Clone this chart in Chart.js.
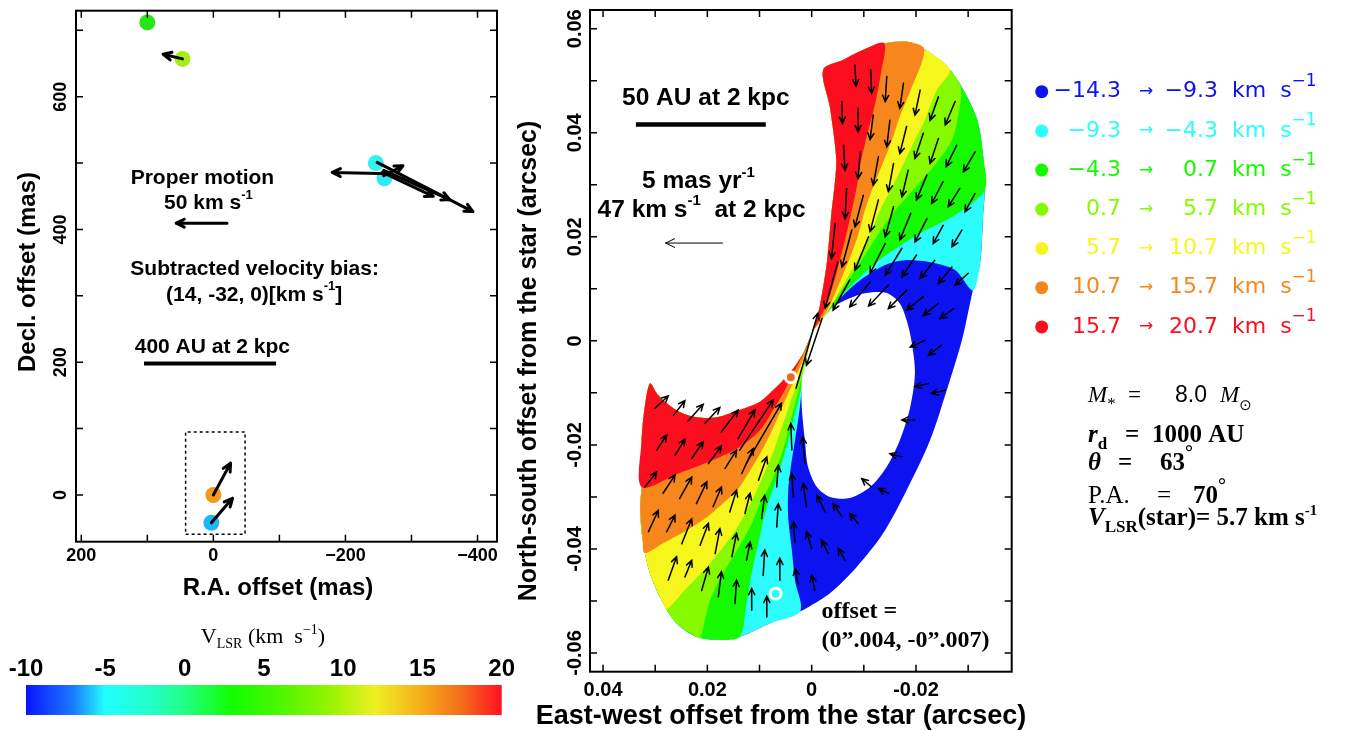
<!DOCTYPE html>
<html>
<head>
<meta charset="utf-8">
<title>Maser proper motions and disk model</title>
<script src="https://cdn.jsdelivr.net/npm/chart.js"></script>
<style>
  html, body { margin: 0; padding: 0; background: #fff; }
  #wrap { position: relative; width: 1345px; height: 731px; overflow: hidden; background: #fff; }
  canvas { position: absolute; }
</style>
</head>
<body>
<div id="wrap">
  <canvas id="pmChart" width="505" height="625" style="left:0;top:0;width:505px;height:625px"></canvas>
  <canvas id="cbChart" width="540" height="111" style="left:0;top:620px;width:540px;height:111px"></canvas>
  <canvas id="modelChart" width="840" height="731" style="left:505px;top:0;width:840px;height:731px"></canvas>
</div>
<script>
const SANS = '"Liberation Sans", Arial, Helvetica, sans-serif';
const SERIF = '"Liberation Serif", "Times New Roman", Times, serif';

// ---- left panel: maser spots, offsets in mas ----
const spotRA = [100, 46.7, -246, -259, 0, 3];
const spotDec = [712, 657, 500, 477, 0, -42];
const spotColor = ['#2ae41a', '#a6ee1a', '#36f2ee', '#2eeaf4', '#f39a1c', '#1eb6f6'];
// proper motion arrows: [ra0, dec0, ra1, dec1]
const pmArrows = [
  [46.7, 657, 76, 664],
  [0, 0, -26, 48],
  [3, -42, -29, -5],
  [-270, 484, -180, 486],
  [-248, 501, -393, 427],
  [-258, 489, -358, 445],
  [-256, 486, -333, 450],
  [-258, 481, -287, 496]
];
const pmRefArrow = [-20.6, 409.5, 56.3, 409.5];   // 50 km/s
const pmBoxRA = [42, -48, -48, 42, 42];
const pmBoxDec = [-59, -59, 95, 95, -59];
const pmBarRA = [105, -95];                         // 400 AU at 2 kpc
const pmBarDec = [198, 198];
const pmTicksX = [200, 100, 0, -100, -200, -300, -400];
const pmTicksY = [0, 100, 200, 300, 400, 500, 600, 700];

// ---- middle panel: disk model, offsets in mas (axes labelled in arcsec) ----
// outer edge of the northern lobe, from the star up the east side, over the top, down to the west
const upperEdge = [[-0.1, 1.7], [-0.8, 3.8], [-1.6, 6.9], [-2.9, 14.9], [-3.8, 24.6], [-4.5, 30.9],
  [-4.7, 35.3], [-3.5, 44.9], [-2.2, 52.1], [-6.0, 54.0], [-9.8, 55.9], [-13.9, 57.2], [-18.3, 57.5],
  [-21.6, 56.1], [-26.5, 52.1], [-29.8, 46.9], [-31.9, 41.9], [-32.9, 35.3], [-33.2, 29.0],
  [-32.9, 24.6], [-32.3, 14.9], [-30.9, 9.7]];
const rightEdge = [[-28.8, 0.1], [-25.9, -9.5], [-22.7, -19.1], [-18.2, -28.7], [-13.7, -37.0],
  [-8.6, -43.5], [-3.5, -48.5], [1.7, -51.8]];
// southern lobe, from the star along the inner edge, round the tip, down and along the bottom
const lowerEdge = [[-0.1, 1.7], [1.5, -2.2], [2.8, -4.3], [4.2, -6.2], [5.5, -7.6], [7.4, -9.5],
  [9.9, -11.7], [13.8, -13.3], [18.2, -14.7], [22.1, -14.7], [25.3, -13.7], [27.8, -12.0],
  [29.7, -10.1], [31.0, -8.2], [32.0, -12.7], [32.6, -19.1], [32.6, -28.1], [32.9, -32.0],
  [32.4, -38.3], [31.0, -44.7], [28.5, -50.4], [25.9, -54.3], [22.1, -56.9], [17.6, -57.5],
  [13.8, -56.9], [8.0, -54.3], [2.2, -52.0]];
const holeEdge = [[-0.1, 1.7], [-2.0, 4.0], [-4.1, 6.5], [-7.3, 8.2], [-10.5, 9.2], [-14.4, 9.2],
  [-16.9, 7.2], [-18.2, 4.0], [-19.2, -0.4], [-19.8, -6.2], [-18.9, -12.7], [-16.9, -19.1],
  [-14.4, -24.2], [-11.2, -28.1], [-7.3, -30.2], [-3.5, -30.0], [-1.0, -28.1], [0.7, -24.2],
  [1.3, -19.1], [1.9, -12.7], [1.9, -7.6], [1.3, -4.7], [0.7, -2.2]];
// velocity band boundaries, northern lobe (edge -> star)
const bUpRO = [[-13.3, 51.5], [-12.1, 45.3], [-10.4, 38.6], [-9.3, 33.8], [-8.7, 29.9], [-7.7, 25.1],
  [-6.6, 20.3], [-5.4, 15.5], [-4.1, 10.7], [-2.6, 6.5], [-1.0, 3.2]];
const bUpOY = [[-19.0, 48.2], [-17.0, 43.4], [-15.4, 38.6], [-13.5, 33.8], [-11.8, 29.6], [-10.2, 25.1],
  [-8.9, 20.3], [-7.3, 15.9], [-5.4, 11.3], [-3.5, 6.9], [-1.6, 3.6]];
const bUpYG = [[-24.0, 48.2], [-21.7, 42.4], [-19.8, 38.6], [-17.5, 33.8], [-15.6, 29.9], [-13.1, 25.1],
  [-11.2, 20.3], [-9.3, 16.5], [-6.6, 11.7], [-4.1, 7.4], [-2.0, 4.0]];
const bUpGG = [[-28.6, 48.6], [-28.1, 43.4], [-26.9, 38.6], [-23.6, 33.8], [-19.8, 29.4], [-16.0, 25.1],
  [-12.7, 20.3], [-10.2, 16.5], [-7.3, 12.0], [-4.5, 7.8], [-2.3, 4.3]];
const bUpGC = [[-27.5, 24.2], [-20.8, 20.7], [-15.6, 17.4], [-11.8, 14.6], [-8.3, 11.3], [-5.4, 8.2],
  [-2.7, 4.8]];
const bUpCB = [[-27.5, 13.6], [-22.7, 15.1], [-17.9, 15.5], [-14.1, 14.6], [-10.2, 12.3], [-7.0, 9.7],
  [-4.7, 7.4], [-4.1, 6.5], [-2.0, 4.0]];
// velocity band boundaries, southern lobe (edge -> star)
const bLoRO = [[25.3, -25.4], [18.9, -22.9], [13.8, -20.4], [9.9, -17.2], [7.4, -13.3], [5.5, -10.1],
  [3.8, -6.8], [2.2, -3.7], [0.9, -1.0]];
const bLoOY = [[32.0, -40.8], [28.5, -38.9], [23.9, -36.4], [20.1, -33.9], [17.0, -31.2], [14.3, -28.7],
  [11.8, -24.9], [9.5, -21.0], [7.6, -17.2], [5.9, -13.3], [4.4, -9.9], [3.0, -6.8], [1.7, -3.7], [0.7, -1.0]];
const bLoYG = [[27.8, -51.6], [23.9, -47.4], [20.1, -43.5], [17.0, -39.7], [13.8, -35.1], [11.4, -30.6],
  [9.5, -26.4], [7.6, -22.0], [6.1, -17.6], [4.7, -13.7], [3.6, -10.4], [2.4, -7.2], [1.3, -3.9], [0.5, -1.2]];
const bLoGG = [[21.4, -57.2], [19.5, -49.9], [17.0, -44.7], [14.3, -40.2], [11.8, -35.8], [9.9, -31.2],
  [8.0, -27.7], [6.5, -23.9], [5.1, -19.6], [4.0, -15.2], [3.0, -11.4], [2.1, -7.7], [1.1, -4.3], [0.3, -1.4]];
const bLoGC = [[12.6, -51.2], [11.5, -44.7], [10.1, -38.3], [8.8, -32.6], [7.2, -27.8], [5.7, -23.4],
  [4.4, -18.7], [3.2, -13.9], [2.2, -10.1], [1.5, -6.6], [0.9, -4.1], [0.3, -1.4]];
const bLoCB = [[3.2, -46.0], [3.8, -40.2], [4.5, -33.9], [4.5, -28.7], [4.0, -24.3], [3.2, -19.1],
  [2.4, -13.9], [1.9, -9.5], [1.3, -5.3], [0.5, -1.4]];
// model velocity vectors: [x0, y0, x1, y1] in mas
const modelArrows = [
  [-8.3, 53.0, -8.5, 49.0], [-11.3, 52.1, -11.5, 47.6], [-14.4, 50.8, -14.1, 46.0], [-17.6, 49.5, -16.9, 44.7],
  [-20.8, 48.2, -19.8, 43.4], [-24.3, 46.9, -22.7, 42.4], [-27.5, 46.0, -25.6, 41.5],
  [-5.8, 46.0, -5.9, 41.8], [-8.9, 44.7, -8.9, 40.2], [-11.8, 43.4, -11.2, 38.7], [-15.0, 42.4, -14.4, 37.3],
  [-18.2, 41.2, -16.9, 36.0], [-21.4, 39.9, -19.8, 35.1], [-24.3, 38.9, -22.7, 34.1], [-27.8, 37.6, -25.8, 33.5],
  [-31.3, 36.3, -29.1, 32.5],
  [-6.1, 37.6, -6.4, 32.8], [-9.3, 36.3, -8.9, 31.2], [-12.8, 35.4, -11.8, 29.9], [-15.7, 34.1, -14.7, 28.7],
  [-18.5, 32.8, -17.3, 27.7], [-22.1, 31.9, -20.1, 27.1], [-25.2, 30.6, -23.0, 26.4], [-28.4, 29.3, -26.2, 25.8],
  [-31.3, 28.3, -29.4, 24.8],
  [-6.7, 29.3, -6.4, 23.5], [-9.9, 28.0, -8.3, 21.9], [-12.8, 27.1, -11.2, 21.0], [-15.7, 25.8, -14.1, 20.0],
  [-19.0, 24.5, -16.9, 19.4], [-22.1, 23.5, -19.8, 19.0], [-25.2, 22.2, -23.3, 18.7], [-28.8, 21.3, -26.9, 18.1],
  [-4.5, 22.6, -3.8, 15.8], [-7.7, 21.3, -5.8, 14.2], [-10.9, 20.0, -8.3, 13.6], [-14.1, 18.7, -11.2, 13.0],
  [-17.3, 17.8, -14.1, 12.6], [-20.1, 16.5, -17.3, 12.3], [-23.6, 15.5, -20.8, 12.0], [-26.9, 14.2, -24.3, 11.0],
  [-30.0, 13.0, -27.5, 10.7],
  [-7.3, 11.7, -4.1, 5.9], [-11.2, 11.3, -7.3, 6.5], [-14.7, 10.7, -10.9, 6.7], [-18.2, 9.7, -14.7, 6.2],
  [-21.4, 8.5, -18.2, 5.9], [-24.3, 7.2, -21.4, 4.9], [-27.2, 6.2, -24.6, 4.3], [-5.0, 15.1, -2.6, 6.3],
  [-21.7, 0.1, -18.9, -1.2], [-24.9, -0.8, -22.4, -2.8], [-22.4, -8.2, -19.8, -8.8], [-25.6, -9.5, -23.0, -10.1],
  [-19.8, -15.2, -17.3, -15.2], [-17.3, -22.3, -15.0, -21.7], [-14.7, -29.3, -12.8, -28.4], [-11.5, -28.1, -9.6, -26.5],
  [-8.9, -35.1, -7.3, -33.2], [-5.8, -33.8, -4.1, -31.3], [-2.6, -32.9, -1.0, -29.7], [1.0, -31.9, 1.6, -27.4],
  [1.3, -23.6, 1.7, -18.5], [-6.4, -42.2, -5.1, -39.9], [-3.2, -40.9, -1.9, -38.3], [0.0, -39.9, 1.0, -36.7],
  [3.2, -38.7, 3.5, -34.8], [-0.6, -48.0, 0.0, -45.1], [2.6, -46.7, 3.2, -43.8],
  [30.1, -13.0, 27.5, -10.6], [26.5, -14.3, 24.3, -11.5], [23.7, -15.4, 20.8, -12.2], [20.5, -15.9, 17.6, -12.8],
  [17.3, -17.5, 14.1, -13.3], [14.1, -18.8, 10.9, -13.3], [13.8, -21.0, 7.4, -11.4], [12.5, -23.5, 5.8, -12.0],
  [29.7, -21.0, 27.8, -18.1], [26.2, -22.0, 24.3, -18.9], [23.0, -22.6, 20.8, -19.4], [19.8, -23.6, 17.3, -20.2],
  [16.6, -24.5, 14.4, -21.0], [13.4, -25.5, 11.2, -20.7], [10.2, -26.8, 8.6, -22.3], [6.7, -28.1, 6.4, -23.9],
  [32.0, -28.1, 29.7, -25.2], [28.5, -29.3, 26.2, -25.8], [25.3, -30.3, 23.0, -26.2], [22.1, -31.3, 20.1, -27.1],
  [18.9, -31.9, 17.3, -28.1], [15.7, -32.9, 14.4, -28.7], [12.8, -33.2, 11.8, -29.3], [9.6, -34.2, 9.0, -29.7],
  [6.7, -35.8, 6.4, -31.3],
  [31.3, -36.7, 29.4, -32.6], [27.8, -36.7, 26.2, -33.5], [24.9, -39.0, 23.0, -34.2], [21.4, -39.3, 19.8, -35.1],
  [18.5, -40.9, 17.6, -36.1], [15.3, -41.5, 14.4, -37.0], [12.5, -42.2, 11.8, -38.7], [9.3, -45.1, 9.0, -40.2],
  [6.1, -46.0, 6.1, -41.8],
  [27.5, -46.0, 25.9, -41.5], [24.3, -45.4, 23.0, -42.2], [21.1, -48.0, 19.8, -43.5], [17.9, -49.2, 17.3, -44.4],
  [14.7, -50.5, 14.4, -46.0], [11.5, -51.8, 11.5, -47.6], [8.6, -53.1, 8.6, -49.1],
  [3.5, -30.0, 3.8, -25.5], [3.8, -21.0, 4.0, -15.9], [3.0, -9.1, -1.2, 5.3], [-2.0, 4.3, 1.0, -4.7]
];
const scaleArrow = [17.1, 18.8, 28.0, 18.8];        // 5 mas/yr
const auBarX = [33.7, 8.8];                          // 50 AU at 2 kpc
const auBarY = [41.6, 41.6];
const markerX = [4.0, 6.9];
const markerY = [-7.0, -48.6];
const markerColor = ['#f4661c', '#2cfcfc'];
const modelTicksX = [40, 30, 20, 10, 0, -10, -20, -30];
const modelTicksY = [-60, -50, -40, -30, -20, -10, 0, 10, 20, 30, 40, 50, 60];

// ---- legend: velocity bands (km/s) ----
const bandLow = [-14.3, -9.3, -4.3, 0.7, 5.7, 10.7, 15.7];
const bandHigh = [-9.3, -4.3, 0.7, 5.7, 10.7, 15.7, 20.7];
const bandColor = ['#0d12f0', '#2cfcfc', '#16fa00', '#86fb00', '#f6f61c', '#f7871c', '#fb0e1e'];

// ---- colour bar ----
const cbTicks = [-10, -5, 0, 5, 10, 15, 20];
const cbStopV = [-10, -7, -5, -2, 0, 3, 6, 9, 12, 15, 17.5, 20];
const cbStopC = ['#0a14ff', '#1a7cff', '#22ffff', '#22ffc4', '#22ff84', '#12ff00', '#4cf600', '#92f400',
  '#eef022', '#f6ac1a', '#f46c1a', '#ff1022'];

// ---------- helpers ----------
const fmtMas = v => (v < 0 ? '\u2212' + (-v) : String(v));
const fmtArc = v => (v === 0 ? '0' : (v / 1000).toFixed(2));
const fmtVel = v => (v < 0 ? '\u2212' + Math.abs(v).toFixed(1) : v.toFixed(1));
const pts = arr => arr.map(p => ({ x: p[0], y: p[1] }));

function drawArrow(ctx, x0, y0, x1, y1, head, width) {
  const ang = Math.atan2(y1 - y0, x1 - x0);
  const spread = 0.45;
  ctx.lineWidth = width;
  ctx.beginPath();
  ctx.moveTo(x0, y0);
  ctx.lineTo(x1, y1);
  ctx.moveTo(x1 - head * Math.cos(ang - spread), y1 - head * Math.sin(ang - spread));
  ctx.lineTo(x1, y1);
  ctx.lineTo(x1 - head * Math.cos(ang + spread), y1 - head * Math.sin(ang + spread));
  ctx.stroke();
}

// text made of pieces (for super/subscripts)
function rich(ctx, parts, x, y, align, baseline) {
  let w = 0;
  parts.forEach(p => { ctx.font = p.f; w += ctx.measureText(p.t).width; });
  let cx = align === 'left' ? x : x - w / 2;
  ctx.textAlign = 'left';
  ctx.textBaseline = baseline || 'middle';
  parts.forEach(p => {
    ctx.font = p.f;
    ctx.fillText(p.t, cx, y + (p.dy || 0));
    cx += ctx.measureText(p.t).width;
  });
}

// box, inward ticks on four sides, rotated y labels and axis titles
function makeFrame(cfg) {
  return {
    id: 'frame',
    afterDraw(chart) {
      const { ctx, chartArea: a } = chart;
      const sx = chart.scales.x, sy = chart.scales.y;
      ctx.save();
      ctx.strokeStyle = '#000';
      ctx.lineWidth = 2;
      ctx.strokeRect(a.left, a.top, a.right - a.left, a.bottom - a.top);
      ctx.beginPath();
      sx.ticks.forEach(t => {
        const p = sx.getPixelForValue(t.value);
        ctx.moveTo(p, a.bottom); ctx.lineTo(p, a.bottom - 7);
        ctx.moveTo(p, a.top); ctx.lineTo(p, a.top + 7);
      });
      sy.ticks.forEach(t => {
        const p = sy.getPixelForValue(t.value);
        ctx.moveTo(a.left, p); ctx.lineTo(a.left + 7, p);
        ctx.moveTo(a.right, p); ctx.lineTo(a.right - 7, p);
      });
      ctx.lineWidth = 1.5;
      ctx.stroke();

      ctx.fillStyle = '#000';
      ctx.textAlign = 'center';
      ctx.textBaseline = 'middle';
      ctx.font = cfg.labelFont;
      sy.ticks.forEach(t => {
        const s = cfg.yLabel(t.value);
        if (!s) return;
        ctx.save();
        ctx.translate(cfg.yLabelX, sy.getPixelForValue(t.value));
        ctx.rotate(-Math.PI / 2);
        ctx.fillText(s, 0, 0);
        ctx.restore();
      });
      ctx.font = cfg.xTitleFont;
      ctx.fillText(cfg.xTitle, cfg.xTitlePos[0], cfg.xTitlePos[1]);
      ctx.font = cfg.yTitleFont;
      ctx.save();
      ctx.translate(cfg.yTitlePos[0], cfg.yTitlePos[1]);
      ctx.rotate(-Math.PI / 2);
      ctx.fillText(cfg.yTitle, 0, 0);
      ctx.restore();
      ctx.restore();
    }
  };
}

const baseOptions = {
  responsive: false,
  animation: false,
  events: [],
  plugins: { legend: { display: false }, tooltip: { enabled: false } }
};

// ---------- left: proper motions ----------
const pmOverlay = {
  id: 'pmOverlay',
  afterDatasetsDraw(chart) {
    const { ctx } = chart;
    const sx = chart.scales.x, sy = chart.scales.y;
    const X = v => sx.getPixelForValue(v), Y = v => sy.getPixelForValue(v);
    ctx.save();
    ctx.strokeStyle = '#000';
    ctx.lineCap = 'round';
    ctx.lineJoin = 'round';
    pmArrows.concat([pmRefArrow]).forEach(a => drawArrow(ctx, X(a[0]), Y(a[1]), X(a[2]), Y(a[3]), 9, 3));
    ctx.fillStyle = '#000';
    const B = 'bold 21px ' + SANS, S = 'bold 13px ' + SANS;
    rich(ctx, [{ t: 'Proper motion', f: B }], X(16.6), Y(477.8));
    rich(ctx, [{ t: '50 km s', f: B }, { t: '-1', f: S, dy: -8 }], X(7.5), Y(440));
    rich(ctx, [{ t: 'Subtracted velocity bias:', f: B }], X(-62.5), Y(340.6));
    rich(ctx, [{ t: '(14, -32, 0)[km s', f: B }, { t: '-1', f: S, dy: -8 }, { t: ']', f: B }], X(-61.8), Y(301.4));
    rich(ctx, [{ t: '400 AU at 2 kpc', f: B }], X(1.5), Y(222));
    ctx.restore();
  }
};

new Chart(document.getElementById('pmChart'), {
  type: 'scatter',
  data: {
    datasets: [
      { type: 'line', data: pmBoxRA.map((x, i) => ({ x, y: pmBoxDec[i] })), borderColor: '#000',
        borderWidth: 1.5, borderDash: [3, 3], pointRadius: 0, fill: false },
      { type: 'line', data: pmBarRA.map((x, i) => ({ x, y: pmBarDec[i] })), borderColor: '#000',
        borderWidth: 4, pointRadius: 0, fill: false },
      { data: spotRA.map((x, i) => ({ x, y: spotDec[i] })), pointRadius: 8,
        pointBackgroundColor: spotColor, pointBorderWidth: 0 }
    ]
  },
  options: Object.assign({}, baseOptions, {
    layout: { padding: { left: 0, right: 6, top: 10.7, bottom: 0 } },
    scales: {
      x: {
        type: 'linear', reverse: true, min: -429.5, max: 208,
        afterBuildTicks: s => { s.ticks = pmTicksX.map(v => ({ value: v })); },
        afterFit: s => { s.height = 83.3; },
        grid: { display: false, drawTicks: false }, border: { display: false },
        ticks: { autoSkip: false, maxRotation: 0, padding: 4, color: '#000',
          font: { family: SANS, size: 18, weight: 'bold' },
          callback: v => (v % 200 === 0 ? fmtMas(v) : '') }
      },
      y: {
        type: 'linear', min: -70.4, max: 729.6,
        afterBuildTicks: s => { s.ticks = pmTicksY.map(v => ({ value: v })); },
        afterFit: s => { s.width = 76; },
        grid: { display: false, drawTicks: false }, border: { display: false },
        ticks: { display: false }
      }
    }
  }),
  plugins: [pmOverlay, makeFrame({
    labelFont: 'bold 18px ' + SANS, yLabelX: 61, yLabel: v => (v % 200 === 0 ? fmtMas(v) : ''),
    xTitle: 'R.A. offset (mas)', xTitleFont: 'bold 24px ' + SANS, xTitlePos: [278, 588],
    yTitle: 'Decl. offset (mas)', yTitleFont: 'bold 24px ' + SANS, yTitlePos: [28, 272]
  })]
});

// ---------- colour bar ----------
function cbGradient(chart) {
  const sx = chart.scales.x;
  if (!sx || !chart.chartArea) return cbStopC[0];
  const x0 = sx.getPixelForValue(cbTicks[0]);
  const x1 = sx.getPixelForValue(cbTicks[cbTicks.length - 1]);
  const g = chart.ctx.createLinearGradient(x0, 0, x1, 0);
  cbStopV.forEach((v, i) => g.addColorStop((sx.getPixelForValue(v) - x0) / (x1 - x0), cbStopC[i]));
  return g;
}

const cbTitle = {
  id: 'cbTitle',
  afterDraw(chart) {
    const { ctx } = chart;
    ctx.save();
    ctx.fillStyle = '#000';
    const F = '22px ' + SERIF, f = '14px ' + SERIF;
    rich(ctx, [{ t: 'V', f: F }, { t: 'LSR', f: f, dy: 5 }, { t: ' (km  s', f: F },
      { t: '\u22121', f: f, dy: -9 }, { t: ')', f: F }], 263, 23, 'center', 'alphabetic');
    ctx.restore();
  }
};

new Chart(document.getElementById('cbChart'), {
  type: 'bar',
  data: {
    labels: ['V'],
    datasets: [{ data: [[cbTicks[0], cbTicks[cbTicks.length - 1]]], backgroundColor: c => cbGradient(c.chart),
      borderWidth: 0, barPercentage: 1, categoryPercentage: 1 }]
  },
  options: Object.assign({}, baseOptions, {
    indexAxis: 'y',
    layout: { padding: { left: 26, right: 38.3, top: 0, bottom: 16 } },
    scales: {
      x: {
        type: 'linear', position: 'top', min: -10, max: 20,
        afterBuildTicks: s => { s.ticks = cbTicks.map(v => ({ value: v })); },
        afterFit: s => { s.height = 65; },
        grid: { display: false, drawTicks: false }, border: { display: false },
        ticks: { autoSkip: false, maxRotation: 0, padding: 1, color: '#000',
          font: { family: SANS, size: 24, weight: 'bold' } }
      },
      y: { display: false }
    }
  }),
  plugins: [cbTitle]
});

// ---------- middle: disk model ----------
const upperBands = [
  upperEdge.slice(0, 22).concat(bUpCB),
  upperEdge.slice(0, 19).concat(bUpGC),
  upperEdge.slice(0, 15).concat(bUpGG),
  upperEdge.slice(0, 15).concat(bUpYG),
  upperEdge.slice(0, 14).concat(bUpOY),
  upperEdge.slice(0, 12).concat(bUpRO)
];
const lowerBands = [
  lowerEdge.slice(0, 27).concat(bLoCB),
  lowerEdge.slice(0, 25).concat(bLoGC),
  lowerEdge.slice(0, 23).concat(bLoGG),
  lowerEdge.slice(0, 21).concat(bLoYG),
  lowerEdge.slice(0, 19).concat(bLoOY),
  lowerEdge.slice(0, 17).concat(bLoRO)
];
const outline = upperEdge.concat(rightEdge, lowerEdge.slice(1).reverse());

const modelSets = [];
const poly = (arr, color) => ({ type: 'line', data: pts(arr), fill: 'shape', backgroundColor: color,
  borderWidth: 0, pointRadius: 0, tension: 0.3 });
modelSets.push(poly(outline, bandColor[0]));
upperBands.forEach((b, i) => modelSets.push(poly(b, bandColor[i + 1])));
lowerBands.forEach((b, i) => modelSets.push(poly(b, bandColor[i + 1])));
const HOLE = modelSets.length;
modelSets.push(poly(holeEdge, '#ffffff'));
modelSets.push({ type: 'line', data: auBarX.map((x, i) => ({ x, y: auBarY[i] })), borderColor: '#000',
  borderWidth: 4.5, pointRadius: 0, fill: false });
modelSets.push({ data: markerX.map((x, i) => ({ x, y: markerY[i] })), pointRadius: 5.5,
  pointBackgroundColor: markerColor, pointBorderColor: '#ffffff', pointBorderWidth: 3 });
// paint in list order: first listed at the bottom
modelSets.forEach((d, i) => { d.order = 100 - i; });

const modelOverlay = {
  id: 'modelOverlay',
  afterDatasetDraw(chart, args) {
    if (args.index !== HOLE) return;
    const { ctx } = chart;
    const sx = chart.scales.x, sy = chart.scales.y;
    const X = v => sx.getPixelForValue(v), Y = v => sy.getPixelForValue(v);
    ctx.save();
    ctx.strokeStyle = '#000';
    ctx.lineCap = 'round';
    modelArrows.forEach(a => drawArrow(ctx, X(a[0]), Y(a[1]), X(a[2]), Y(a[3]), 7, 1.5));
    drawArrow(ctx, X(scaleArrow[0]), Y(scaleArrow[1]), X(scaleArrow[2]), Y(scaleArrow[3]), 10, 1);
    ctx.restore();
  },
  afterDraw(chart) {
    const { ctx } = chart;
    const sx = chart.scales.x, sy = chart.scales.y;
    const X = v => sx.getPixelForValue(v), Y = v => sy.getPixelForValue(v);
    ctx.save();
    ctx.fillStyle = '#000';
    const B = 'bold 24.5px ' + SANS, S = 'bold 15px ' + SANS;
    rich(ctx, [{ t: '50 AU at 2 kpc', f: B }], X(20.3), Y(46.7));
    rich(ctx, [{ t: '5 mas yr', f: B }, { t: '-1', f: S, dy: -9 }], X(21.7), Y(30.6));
    rich(ctx, [{ t: '47 km s', f: B }, { t: '-1', f: S, dy: -9 }, { t: '  at 2 kpc', f: B }], X(21.1), Y(25.1));
    const T = 'bold 24px ' + SERIF;
    rich(ctx, [{ t: 'offset =', f: T }], X(-1.9), Y(-52.1), 'left');
    rich(ctx, [{ t: '(0\u201d.004, -0\u201d.007)', f: T }], X(-1.9), Y(-57.6), 'left');

    // velocity band legend
    const LF = '22px "DejaVu Sans", ' + SANS;
    bandLow.forEach((lo, i) => {
      const y = 91.7 + 39.2 * i;
      ctx.fillStyle = bandColor[i];
      ctx.beginPath();
      ctx.arc(536.7, y, 6.5, 0, Math.PI * 2);
      ctx.fill();
      ctx.font = LF;
      ctx.textBaseline = 'middle';
      ctx.textAlign = 'right';
      ctx.fillText(fmtVel(lo), 616, y);
      ctx.fillText(fmtVel(bandHigh[i]), 713, y);
      ctx.textAlign = 'center';
      ctx.font = '17px "DejaVu Sans", ' + SANS;
      ctx.fillText('\u2192', 641, y);
      rich(ctx, [{ t: 'km  s', f: LF }, { t: '\u22121', f: '17px "DejaVu Sans", ' + SANS, dy: -10 }], 727, y, 'left');
    });

    // model parameters
    ctx.fillStyle = '#000';
    const R = '23px ' + SERIF, RI = 'italic 23px ' + SERIF;
    const BB = 'bold 25px ' + SERIF, BI = 'bold italic 25px ' + SERIF, BS = 'bold 17px ' + SERIF;
    rich(ctx, [{ t: 'M', f: RI }, { t: '*', f: '17px ' + SERIF, dy: 7 }], 583, 402, 'left', 'alphabetic');
    rich(ctx, [{ t: '=', f: R }], 623, 402, 'left', 'alphabetic');
    rich(ctx, [{ t: '8.0', f: '23px ' + SANS }], 670, 402, 'left', 'alphabetic');
    rich(ctx, [{ t: 'M', f: RI }, { t: '\u2299', f: '15px "DejaVu Sans", ' + SANS, dy: 8 }], 715, 402, 'left', 'alphabetic');
    rich(ctx, [{ t: 'r', f: BI }, { t: 'd', f: BS, dy: 7 }], 583, 442, 'left', 'alphabetic');
    rich(ctx, [{ t: '=', f: BB }], 620, 442, 'left', 'alphabetic');
    rich(ctx, [{ t: '1000 AU', f: BB }], 647, 442, 'left', 'alphabetic');
    rich(ctx, [{ t: '\u03b8', f: BI }], 583, 470, 'left', 'alphabetic');
    rich(ctx, [{ t: '=', f: BB }], 613, 470, 'left', 'alphabetic');
    rich(ctx, [{ t: '63', f: BB }, { t: '\u00b0', f: 'bold 20px ' + SERIF, dy: -11 }], 655, 470, 'left', 'alphabetic');
    rich(ctx, [{ t: 'P.A.', f: '25px ' + SERIF }], 583, 503, 'left', 'alphabetic');
    rich(ctx, [{ t: '=', f: '25px ' + SERIF }], 652, 503, 'left', 'alphabetic');
    rich(ctx, [{ t: '70', f: BB }, { t: '\u00b0', f: 'bold 20px ' + SERIF, dy: -11 }], 688, 503, 'left', 'alphabetic');
    rich(ctx, [{ t: 'V', f: BI }, { t: 'LSR', f: BS, dy: 7 }, { t: '(star)= 5.7 km s', f: BB },
      { t: '-1', f: 'bold 15px ' + SERIF, dy: -10 }], 583, 525, 'left', 'alphabetic');
    ctx.restore();
  }
};

new Chart(document.getElementById('modelChart'), {
  type: 'scatter',
  data: { datasets: modelSets },
  options: Object.assign({}, baseOptions, {
    layout: { padding: { left: 0, right: 333.3, top: 10, bottom: 0 } },
    scales: {
      x: {
        type: 'linear', reverse: true, min: -38.35, max: 42.5,
        afterBuildTicks: s => { s.ticks = modelTicksX.map(v => ({ value: v })); },
        afterFit: s => { s.height = 59.3; },
        grid: { display: false, drawTicks: false }, border: { display: false },
        ticks: { autoSkip: false, maxRotation: 0, padding: 7, color: '#000',
          font: { family: SANS, size: 20, weight: 'bold' },
          callback: v => (v % 20 === 0 ? fmtArc(v) : '') }
      },
      y: {
        type: 'linear', min: -63.6, max: 63.6,
        afterBuildTicks: s => { s.ticks = modelTicksY.map(v => ({ value: v })); },
        afterFit: s => { s.width = 85; },
        grid: { display: false, drawTicks: false }, border: { display: false },
        ticks: { display: false }
      }
    }
  }),
  plugins: [modelOverlay, makeFrame({
    labelFont: 'bold 20px ' + SANS, yLabelX: 70, yLabel: v => (v % 20 === 0 ? fmtArc(v) : ''),
    xTitle: 'East-west offset from the star (arcsec)', xTitleFont: 'bold 27px ' + SANS, xTitlePos: [276, 717],
    yTitle: 'North-south offset from the star (arcsec)', yTitleFont: 'bold 25px ' + SANS, yTitlePos: [24, 361]
  })]
});
</script>
</body>
</html>
